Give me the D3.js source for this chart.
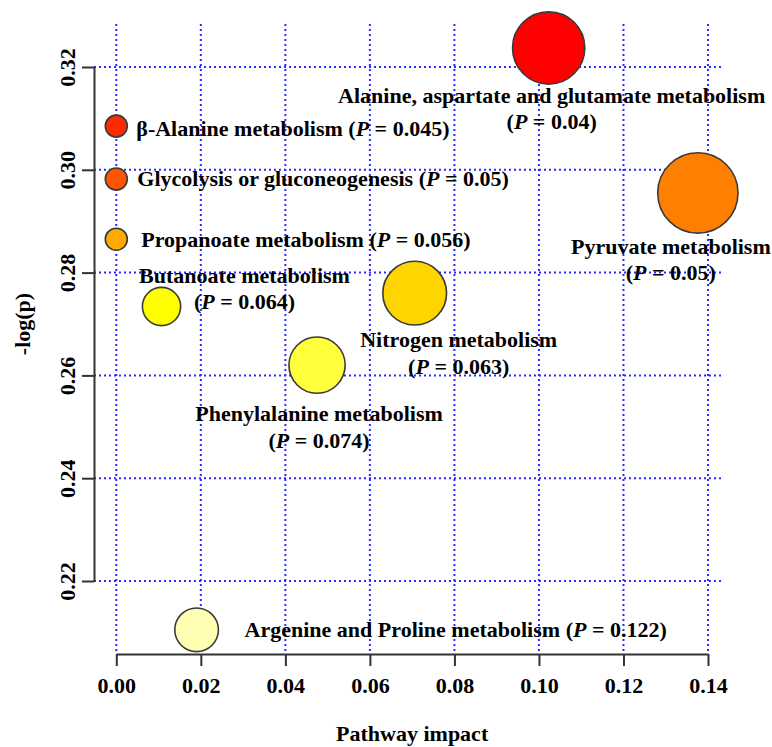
<!DOCTYPE html>
<html>
<head>
<meta charset="utf-8">
<script src="https://cdn.jsdelivr.net/npm/d3@7"></script>
<style>
  html, body { margin: 0; padding: 0; background: #ffffff; }
  svg { display: block; }
  text { font-family: "Liberation Serif", "Times New Roman", serif; font-weight: bold; fill: #000; }
</style>
</head>
<body>
<svg id="chart" width="772" height="747"></svg>
<script>
// ---------------- data ----------------
const pathways = [
  "Alanine, aspartate and glutamate metabolism",
  "β-Alanine metabolism",
  "Glycolysis or gluconeogenesis",
  "Pyruvate metabolism",
  "Propanoate metabolism",
  "Butanoate metabolism",
  "Nitrogen metabolism",
  "Phenylalanine metabolism",
  "Argenine and Proline metabolism"
];
const impact   = [0.1023, 0.0000, 0.0000, 0.1376, 0.0000, 0.0107, 0.0706, 0.0475, 0.0190];
const negLogP  = [0.3237, 0.3085, 0.2982, 0.2955, 0.2865, 0.2734, 0.2760, 0.2620, 0.2105];
const pValues  = ["0.04", "0.045", "0.05", "0.05", "0.056", "0.064", "0.063", "0.074", "0.122"];
const xTicks   = [0.00, 0.02, 0.04, 0.06, 0.08, 0.10, 0.12, 0.14];
const yTicks   = [0.22, 0.24, 0.26, 0.28, 0.30, 0.32];

// ---------------- styles / layout ----------------
const heatPalette = ["#ff0000", "#ff2a00", "#ff5500", "#ff8000", "#ffaa00", "#ffd500", "#ffff00", "#ffff3c", "#ffffb4"];
// label placement relative to bubble centre: anchor, dx, dy (first baseline), two-line flag
const labelLayout = [
  { anchor: "middle", dx: 3,   dy: 55,  split: true },
  { anchor: "start",  dx: 20,  dy: 10,  split: false },
  { anchor: "start",  dx: 21,  dy: 7,   split: false },
  { anchor: "middle", dx: -27, dy: 61,  split: true },
  { anchor: "start",  dx: 25,  dy: 8,   split: false },
  { anchor: "middle", dx: 83,  dy: -24, split: true },
  { anchor: "middle", dx: 44,  dy: 54,  split: true },
  { anchor: "middle", dx: 2,   dy: 56,  split: true },
  { anchor: "start",  dx: 48,  dy: 7,   split: false }
];
const lineGap = 26.5;
const fontSize = 22;

const svg = d3.select("#chart");

const x = d3.scaleLinear().domain([0, 0.14]).range([116.3, 708]);
const y = d3.scaleLinear().domain([0.22, 0.32]).range([581, 67]);
const r = d3.scaleSqrt().domain([0, 0.14]).range([11, 40.4]);

const axisX0 = 94, axisY0 = 654;   // axis positions
const gridTop = 24, gridRight = 721;

// colour by rank of p-value
const order = d3.range(pathways.length).sort((a, b) => (+pValues[a]) - (+pValues[b]) || a - b);
const rank = new Array(pathways.length);
order.forEach((idx, k) => rank[idx] = k);
const color = i => heatPalette[rank[i]];

// ---------------- grid ----------------
const grid = svg.append("g")
  .attr("stroke", "#2a2aff").attr("stroke-width", 2).attr("stroke-dasharray", "2,3");
grid.selectAll("line.v").data(xTicks).join("line")
  .attr("class", "v")
  .attr("x1", d => x(d)).attr("x2", d => x(d))
  .attr("y1", gridTop).attr("y2", axisY0);
grid.selectAll("line.h").data(yTicks).join("line")
  .attr("class", "h")
  .attr("y1", d => y(d)).attr("y2", d => y(d))
  .attr("x1", axisX0).attr("x2", gridRight);

// ---------------- axes ----------------
const xAxis = d3.axisBottom(x).tickValues(xTicks).tickFormat(d3.format(".2f"))
  .tickSizeInner(12).tickSizeOuter(0).tickPadding(22);
const gx = svg.append("g").attr("transform", `translate(0,${axisY0})`).call(xAxis);
gx.select(".domain").attr("stroke", "#333").attr("stroke-width", 2);
gx.selectAll(".tick line").attr("stroke", "#333").attr("stroke-width", 2);
gx.selectAll(".tick text")
  .attr("font-size", fontSize).attr("font-family", "Liberation Serif, Times New Roman, serif")
  .attr("font-weight", "bold").attr("fill", "#000")
  .attr("y", 39).attr("dy", 0);

const yAxis = d3.axisLeft(y).tickValues(yTicks).tickFormat(d3.format(".2f"))
  .tickSizeInner(12).tickSizeOuter(0);
const gy = svg.append("g").attr("transform", `translate(${axisX0},0)`).call(yAxis);
gy.select(".domain").attr("stroke", "#333").attr("stroke-width", 2);
gy.selectAll(".tick line").attr("stroke", "#333").attr("stroke-width", 2);
gy.selectAll(".tick text")
  .attr("font-size", fontSize).attr("font-family", "Liberation Serif, Times New Roman, serif")
  .attr("font-weight", "bold").attr("fill", "#000")
  .attr("transform", "rotate(-90)")
  .attr("x", 0).attr("y", -19).attr("dy", 0)
  .attr("text-anchor", "middle");

// axis titles
svg.append("text")
  .attr("x", (x(0) + x(0.14)) / 2).attr("y", 741)
  .attr("text-anchor", "middle").attr("font-size", fontSize)
  .text("Pathway impact");
svg.append("text")
  .attr("transform", `translate(30,${(y(0.22) + y(0.32)) / 2}) rotate(-90)`)
  .attr("text-anchor", "middle").attr("font-size", fontSize)
  .text("-log(p)");

// ---------------- bubbles ----------------
const idx = d3.range(pathways.length);
svg.append("g").selectAll("circle").data(idx).join("circle")
  .attr("cx", i => x(impact[i]))
  .attr("cy", i => y(negLogP[i]))
  .attr("r", i => r(impact[i]))
  .attr("fill", i => color(i))
  .attr("stroke", "#3a3a3a").attr("stroke-width", 1.6);

// ---------------- labels ----------------
function addPPart(t, p, closing) {
  t.append("tspan").text("(");
  t.append("tspan").attr("font-style", "italic").text("P");
  t.append("tspan").text(" = " + p + ")");
}
const labels = svg.append("g").attr("font-size", fontSize);
idx.forEach(i => {
  const L = labelLayout[i];
  const cx = x(impact[i]) + L.dx;
  const cy = y(negLogP[i]) + L.dy;
  if (L.split) {
    labels.append("text").attr("x", cx).attr("y", cy)
      .attr("text-anchor", L.anchor).text(pathways[i]);
    const t2 = labels.append("text").attr("x", cx).attr("y", cy + lineGap)
      .attr("text-anchor", L.anchor);
    addPPart(t2, pValues[i]);
  } else {
    const t = labels.append("text").attr("x", cx).attr("y", cy)
      .attr("text-anchor", L.anchor);
    t.append("tspan").text(pathways[i] + " ");
    addPPart(t, pValues[i]);
  }
});
</script>
</body>
</html>
